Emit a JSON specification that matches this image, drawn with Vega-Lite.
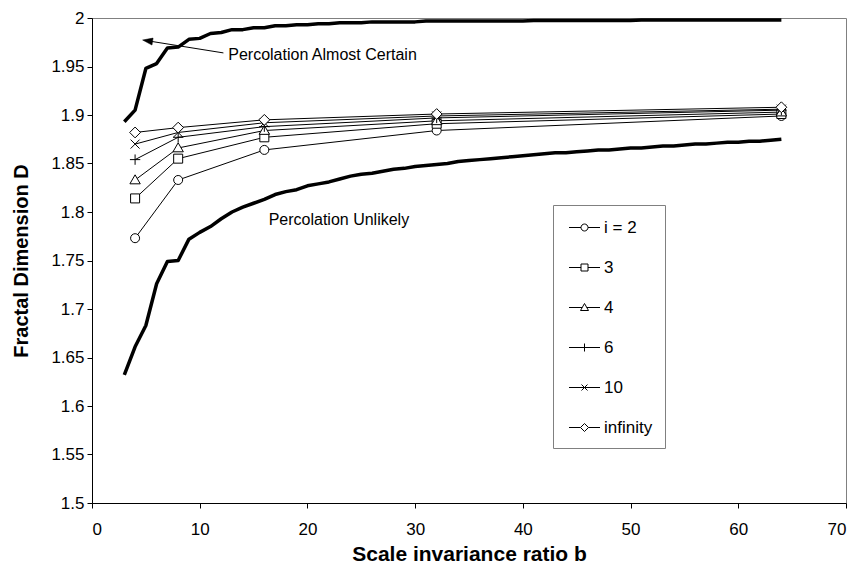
{
  "$schema": "https://vega.github.io/schema/vega-lite/v6.json",
  "width": 754,
  "height": 485,
  "autosize": {"type": "none"},
  "padding": {"left": 92, "top": 18, "right": 12, "bottom": 70},
  "background": "white",
  "config": {
    "font": "Liberation Sans",
    "view": {"stroke": "#808080", "strokeWidth": 1},
    "axis": {
      "grid": false,
      "domainColor": "black",
      "tickColor": "black",
      "labelColor": "black",
      "titleColor": "black",
      "labelFont": "Liberation Sans",
      "titleFont": "Liberation Sans",
      "tickSize": 5,
      "labelFontSize": 17,
      "titleFontSize": 20,
      "titleFontWeight": "bold"
    }
  },
  "datasets": {
    "series": [
      {"b": 4, "D": 1.773, "series": "i = 2"},
      {"b": 8, "D": 1.833, "series": "i = 2"},
      {"b": 16, "D": 1.864, "series": "i = 2"},
      {"b": 32, "D": 1.884, "series": "i = 2"},
      {"b": 64, "D": 1.899, "series": "i = 2"},
      {"b": 4, "D": 1.814, "series": "3"},
      {"b": 8, "D": 1.855, "series": "3"},
      {"b": 16, "D": 1.877, "series": "3"},
      {"b": 32, "D": 1.891, "series": "3"},
      {"b": 64, "D": 1.901, "series": "3"},
      {"b": 4, "D": 1.833, "series": "4"},
      {"b": 8, "D": 1.866, "series": "4"},
      {"b": 16, "D": 1.884, "series": "4"},
      {"b": 32, "D": 1.894, "series": "4"},
      {"b": 64, "D": 1.903, "series": "4"},
      {"b": 4, "D": 1.854, "series": "6"},
      {"b": 8, "D": 1.877, "series": "6"},
      {"b": 16, "D": 1.888, "series": "6"},
      {"b": 32, "D": 1.897, "series": "6"},
      {"b": 64, "D": 1.905, "series": "6"},
      {"b": 4, "D": 1.870, "series": "10"},
      {"b": 8, "D": 1.882, "series": "10"},
      {"b": 16, "D": 1.892, "series": "10"},
      {"b": 32, "D": 1.899, "series": "10"},
      {"b": 64, "D": 1.906, "series": "10"},
      {"b": 4, "D": 1.882, "series": "infinity"},
      {"b": 8, "D": 1.887, "series": "infinity"},
      {"b": 16, "D": 1.895, "series": "infinity"},
      {"b": 32, "D": 1.901, "series": "infinity"},
      {"b": 64, "D": 1.908, "series": "infinity"}
    ],
    "bounds": [
      {"b": 3, "D": 1.893, "curve": "upper"}, {"b": 4, "D": 1.905, "curve": "upper"},
      {"b": 5, "D": 1.948, "curve": "upper"}, {"b": 6, "D": 1.953, "curve": "upper"},
      {"b": 7, "D": 1.969, "curve": "upper"}, {"b": 8, "D": 1.970, "curve": "upper"},
      {"b": 9, "D": 1.978, "curve": "upper"}, {"b": 10, "D": 1.979, "curve": "upper"},
      {"b": 11, "D": 1.984, "curve": "upper"}, {"b": 12, "D": 1.985, "curve": "upper"},
      {"b": 13, "D": 1.988, "curve": "upper"}, {"b": 14, "D": 1.988, "curve": "upper"},
      {"b": 15, "D": 1.990, "curve": "upper"}, {"b": 16, "D": 1.990, "curve": "upper"},
      {"b": 17, "D": 1.992, "curve": "upper"}, {"b": 18, "D": 1.992, "curve": "upper"},
      {"b": 19, "D": 1.993, "curve": "upper"}, {"b": 20, "D": 1.993, "curve": "upper"},
      {"b": 21, "D": 1.994, "curve": "upper"}, {"b": 22, "D": 1.994, "curve": "upper"},
      {"b": 23, "D": 1.995, "curve": "upper"}, {"b": 24, "D": 1.995, "curve": "upper"},
      {"b": 25, "D": 1.995, "curve": "upper"}, {"b": 26, "D": 1.996, "curve": "upper"},
      {"b": 27, "D": 1.996, "curve": "upper"}, {"b": 28, "D": 1.996, "curve": "upper"},
      {"b": 29, "D": 1.996, "curve": "upper"}, {"b": 30, "D": 1.996, "curve": "upper"},
      {"b": 31, "D": 1.997, "curve": "upper"}, {"b": 32, "D": 1.997, "curve": "upper"},
      {"b": 33, "D": 1.997, "curve": "upper"}, {"b": 34, "D": 1.997, "curve": "upper"},
      {"b": 35, "D": 1.997, "curve": "upper"}, {"b": 36, "D": 1.997, "curve": "upper"},
      {"b": 37, "D": 1.997, "curve": "upper"}, {"b": 38, "D": 1.997, "curve": "upper"},
      {"b": 39, "D": 1.997, "curve": "upper"}, {"b": 40, "D": 1.997, "curve": "upper"},
      {"b": 41, "D": 1.9975, "curve": "upper"}, {"b": 42, "D": 1.9975, "curve": "upper"},
      {"b": 43, "D": 1.9975, "curve": "upper"}, {"b": 44, "D": 1.9975, "curve": "upper"},
      {"b": 45, "D": 1.9975, "curve": "upper"}, {"b": 46, "D": 1.9975, "curve": "upper"},
      {"b": 47, "D": 1.9975, "curve": "upper"}, {"b": 48, "D": 1.9975, "curve": "upper"},
      {"b": 49, "D": 1.9975, "curve": "upper"}, {"b": 50, "D": 1.9975, "curve": "upper"},
      {"b": 51, "D": 1.998, "curve": "upper"}, {"b": 52, "D": 1.998, "curve": "upper"},
      {"b": 53, "D": 1.998, "curve": "upper"}, {"b": 54, "D": 1.998, "curve": "upper"},
      {"b": 55, "D": 1.998, "curve": "upper"}, {"b": 56, "D": 1.998, "curve": "upper"},
      {"b": 57, "D": 1.998, "curve": "upper"}, {"b": 58, "D": 1.998, "curve": "upper"},
      {"b": 59, "D": 1.998, "curve": "upper"}, {"b": 60, "D": 1.998, "curve": "upper"},
      {"b": 61, "D": 1.998, "curve": "upper"}, {"b": 62, "D": 1.998, "curve": "upper"},
      {"b": 63, "D": 1.998, "curve": "upper"}, {"b": 64, "D": 1.998, "curve": "upper"},
      {"b": 3, "D": 1.632, "curve": "lower"}, {"b": 4, "D": 1.661, "curve": "lower"},
      {"b": 5, "D": 1.683, "curve": "lower"}, {"b": 6, "D": 1.726, "curve": "lower"},
      {"b": 7, "D": 1.749, "curve": "lower"}, {"b": 8, "D": 1.750, "curve": "lower"},
      {"b": 9, "D": 1.772, "curve": "lower"}, {"b": 10, "D": 1.779, "curve": "lower"},
      {"b": 11, "D": 1.785, "curve": "lower"}, {"b": 12, "D": 1.793, "curve": "lower"},
      {"b": 13, "D": 1.800, "curve": "lower"}, {"b": 14, "D": 1.805, "curve": "lower"},
      {"b": 15, "D": 1.809, "curve": "lower"}, {"b": 16, "D": 1.813, "curve": "lower"},
      {"b": 17, "D": 1.818, "curve": "lower"}, {"b": 18, "D": 1.821, "curve": "lower"},
      {"b": 19, "D": 1.823, "curve": "lower"}, {"b": 20, "D": 1.827, "curve": "lower"},
      {"b": 21, "D": 1.829, "curve": "lower"}, {"b": 22, "D": 1.831, "curve": "lower"},
      {"b": 23, "D": 1.834, "curve": "lower"}, {"b": 24, "D": 1.837, "curve": "lower"},
      {"b": 25, "D": 1.839, "curve": "lower"}, {"b": 26, "D": 1.840, "curve": "lower"},
      {"b": 27, "D": 1.842, "curve": "lower"}, {"b": 28, "D": 1.844, "curve": "lower"},
      {"b": 29, "D": 1.845, "curve": "lower"}, {"b": 30, "D": 1.847, "curve": "lower"},
      {"b": 31, "D": 1.848, "curve": "lower"}, {"b": 32, "D": 1.849, "curve": "lower"},
      {"b": 33, "D": 1.850, "curve": "lower"}, {"b": 34, "D": 1.852, "curve": "lower"},
      {"b": 35, "D": 1.853, "curve": "lower"}, {"b": 36, "D": 1.854, "curve": "lower"},
      {"b": 37, "D": 1.855, "curve": "lower"}, {"b": 38, "D": 1.856, "curve": "lower"},
      {"b": 39, "D": 1.857, "curve": "lower"}, {"b": 40, "D": 1.858, "curve": "lower"},
      {"b": 41, "D": 1.859, "curve": "lower"}, {"b": 42, "D": 1.860, "curve": "lower"},
      {"b": 43, "D": 1.861, "curve": "lower"}, {"b": 44, "D": 1.861, "curve": "lower"},
      {"b": 45, "D": 1.862, "curve": "lower"}, {"b": 46, "D": 1.863, "curve": "lower"},
      {"b": 47, "D": 1.864, "curve": "lower"}, {"b": 48, "D": 1.864, "curve": "lower"},
      {"b": 49, "D": 1.865, "curve": "lower"}, {"b": 50, "D": 1.866, "curve": "lower"},
      {"b": 51, "D": 1.866, "curve": "lower"}, {"b": 52, "D": 1.867, "curve": "lower"},
      {"b": 53, "D": 1.868, "curve": "lower"}, {"b": 54, "D": 1.868, "curve": "lower"},
      {"b": 55, "D": 1.869, "curve": "lower"}, {"b": 56, "D": 1.870, "curve": "lower"},
      {"b": 57, "D": 1.870, "curve": "lower"}, {"b": 58, "D": 1.871, "curve": "lower"},
      {"b": 59, "D": 1.872, "curve": "lower"}, {"b": 60, "D": 1.872, "curve": "lower"},
      {"b": 61, "D": 1.873, "curve": "lower"}, {"b": 62, "D": 1.873, "curve": "lower"},
      {"b": 63, "D": 1.874, "curve": "lower"}, {"b": 64, "D": 1.875, "curve": "lower"}
    ],
    "notes": [
      {"b": 12.65, "D": 1.962, "text": "Percolation Almost Certain"},
      {"b": 16.4, "D": 1.792, "text": "Percolation Unlikely"}
    ],
    "arrow": [
      {"b": 5.16, "D": 1.9765, "b2": 12.2, "D2": 1.964}
    ]
  },
  "encoding": {
    "x": {
      "field": "b",
      "type": "quantitative",
      "scale": {"domain": [0, 70], "nice": false, "zero": false},
      "axis": {
        "values": [0, 10, 20, 30, 40, 50, 60, 70],
        "title": "Scale invariance ratio b",
        "titleFontSize": 21,
        "labelPadding": 13,
        "titlePadding": 6
      }
    },
    "y": {
      "field": "D",
      "type": "quantitative",
      "scale": {"domain": [1.5, 2], "nice": false, "zero": false},
      "axis": {
        "values": [1.5, 1.55, 1.6, 1.65, 1.7, 1.75, 1.8, 1.85, 1.9, 1.95, 2],
        "format": "~g",
        "title": "Fractal Dimension D",
        "labelPadding": 3,
        "titlePadding": 19
      }
    }
  },
  "layer": [
    {
      "data": {"name": "bounds"},
      "mark": {"type": "line", "stroke": "black", "strokeWidth": 3.5, "strokeJoin": "round"},
      "encoding": {"detail": {"field": "curve", "type": "nominal"}}
    },
    {
      "data": {"name": "series"},
      "mark": {"type": "line", "stroke": "black", "strokeWidth": 1},
      "encoding": {"detail": {"field": "series", "type": "nominal"}}
    },
    {
      "data": {"name": "series"},
      "mark": {"type": "point", "filled": true, "fill": "white", "stroke": "black", "strokeWidth": 1, "size": 81, "opacity": 1},
      "encoding": {
        "shape": {
          "field": "series",
          "type": "nominal",
          "scale": {
            "domain": ["i = 2", "3", "4", "6", "10", "infinity"],
            "range": [
              "M1,0A1,1,0,1,1,-1,0A1,1,0,1,1,1,0Z",
              "M-1,-1H1V1H-1Z",
              "M0,-1.15L1.15,0.85H-1.15Z",
              "M-1.15,0H1.15M0,-1.15V1.15",
              "M-1,-1L1,1M-1,1L1,-1",
              "M0,-1.2L1.2,0L0,1.2L-1.2,0Z"
            ]
          },
          "legend": null
        }
      }
    },
    {
      "data": {"name": "series"},
      "mark": {"type": "point", "filled": false, "stroke": "black", "strokeWidth": 1, "size": 400, "opacity": 0},
      "encoding": {
        "shape": {
          "field": "series",
          "type": "nominal",
          "scale": {
            "domain": ["i = 2", "3", "4", "6", "10", "infinity"],
            "range": [
              "M-1.55,0H-0.35M0.35,0H1.55M0.35,0A0.35,0.35,0,1,1,-0.35,0A0.35,0.35,0,1,1,0.35,0",
              "M-1.55,0H-0.35M0.35,0H1.55M-0.35,-0.35H0.35V0.35H-0.35Z",
              "M-1.55,0H-0.23M0.23,0H1.55M0,-0.4L0.4,0.3H-0.4Z",
              "M-1.55,0H1.55M0,-0.4V0.4",
              "M-1.55,0H1.55M-0.3,-0.3L0.3,0.3M-0.3,0.3L0.3,-0.3",
              "M-1.55,0H-0.4M0.4,0H1.55M0,-0.4L0.4,0L0,0.4L-0.4,0Z"
            ]
          },
          "legend": {
            "title": null,
            "orient": "none",
            "legendX": 461,
            "legendY": 187,
            "padding": 12,
            "strokeColor": "#808080",
            "fillColor": "white",
            "symbolSize": 400,
            "symbolOffset": 9,
            "labelOffset": 9,
            "rowPadding": 21,
            "labelFontSize": 17,
            "labelFont": "Liberation Sans",
            "labelColor": "black",
            "symbolStrokeWidth": 1,
            "symbolStrokeColor": "black",
            "symbolOpacity": 1
          }
        }
      }
    },
    {
      "data": {"name": "arrow"},
      "mark": {"type": "rule", "stroke": "black", "strokeWidth": 1},
      "encoding": {
        "x2": {"field": "b2"},
        "y2": {"field": "D2"}
      }
    },
    {
      "data": {"name": "arrow"},
      "mark": {"type": "point", "shape": "M-1,0L1,-0.7L1,0.7Z", "size": 100, "angle": 9, "filled": true, "fill": "black", "stroke": "black", "strokeWidth": 0.5, "opacity": 1}
    },
    {
      "data": {"name": "notes"},
      "mark": {"type": "text", "align": "left", "baseline": "middle", "fontSize": 16, "font": "Liberation Sans", "color": "black"},
      "encoding": {"text": {"field": "text", "type": "nominal"}}
    }
  ],
  "resolve": {"scale": {"shape": "independent"}}
}
